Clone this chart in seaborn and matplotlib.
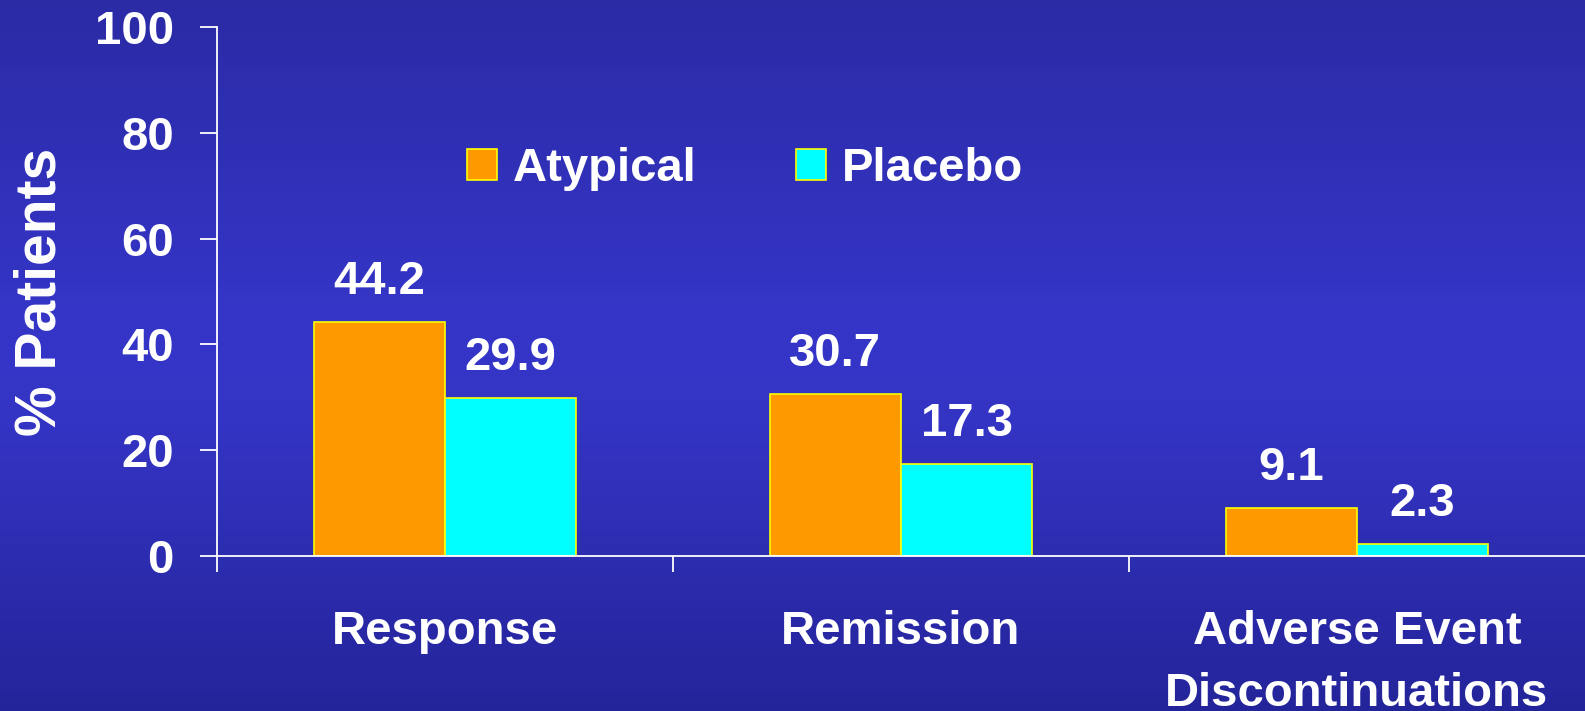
import numpy as np
import pandas as pd
import matplotlib
matplotlib.use("Agg")
import matplotlib.pyplot as plt
import matplotlib.patches as mpatches
from matplotlib.colors import LinearSegmentedColormap
import seaborn as sns

# Data
categories = ["Response", "Remission", "Adverse Event\nDiscontinuations"]
groups = ["Atypical", "Placebo"]
atypical = [44.2, 30.7, 9.1]
placebo = [29.9, 17.3, 2.3]
y_ticks = [0, 20, 40, 60, 80, 100]

colors = {"Atypical": "#FF9900", "Placebo": "#00FFFF"}
edge = "#FFFF00"
fg = "white"

sns.set_style("ticks")
plt.rcParams["font.family"] = ["Liberation Sans", "DejaVu Sans"]
plt.rcParams["font.weight"] = "bold"

df = pd.DataFrame({
    "category": categories * 2,
    "group": ["Atypical"] * 3 + ["Placebo"] * 3,
    "value": atypical + placebo,
})

fig = plt.figure(figsize=(15.85, 7.11), dpi=100)

# Vertical blue gradient backdrop
bg = fig.add_axes([0, 0, 1, 1], zorder=-10)
grad_cmap = LinearSegmentedColormap.from_list(
    "bluegrad",
    [(0.0, "#2B2BA6"), (0.45, "#3535C8"), (0.6, "#3434C4"), (1.0, "#24249A")],
)
bg.imshow(np.linspace(0, 1, 256).reshape(-1, 1), aspect="auto", cmap=grad_cmap,
          extent=[0, 1, 0, 1])
bg.set_axis_off()

ax = fig.add_axes([217 / 1585, 1 - 556 / 711, 1 - 217 / 1585, (556 - 27) / 711])
ax.set_facecolor("none")

sns.barplot(data=df, x="category", y="value", hue="group", order=categories,
            hue_order=groups, palette=colors, width=0.575, gap=0,
            edgecolor=edge, linewidth=1.2, errorbar=None, legend=False,
            saturation=1, ax=ax)

for cont in ax.containers:
    ax.bar_label(cont, fmt="%.1f", padding=13, fontsize=34,
                 fontweight="bold", color=fg)

ax.set_xlim(-0.5, 2.5)
ax.set_ylim(0, 100)
ax.set_yticks(y_ticks)
ax.set_yticklabels([str(t) for t in y_ticks], fontweight="bold")
ax.set_xticks(range(len(categories)))
ax.set_xticklabels(categories, fontweight="bold", linespacing=1.53)
ax.set_xlabel("")
ax.set_ylabel("% Patients", fontsize=41, fontweight="bold", color=fg,
              labelpad=20)

for s in ["top", "right"]:
    ax.spines[s].set_visible(False)
for s in ["left", "bottom"]:
    ax.spines[s].set_color(fg)
    ax.spines[s].set_linewidth(1.3)
ax.spines["bottom"].set_zorder(5)

ax.tick_params(axis="y", colors=fg, labelsize=34, length=12, width=1.3,
               pad=19)
ax.tick_params(axis="x", which="major", colors=fg, labelsize=34, length=0,
               pad=39)
ax.set_xticks([-0.5, 0.5, 1.5], minor=True)
ax.tick_params(axis="x", which="minor", colors=fg, length=11.5, width=1.3)

handles = [mpatches.Patch(facecolor=colors[g], edgecolor=edge, linewidth=1.2,
                          label=g) for g in groups]
leg = fig.legend(handles=handles, loc="center left",
                 bbox_to_anchor=(443 / 1585, 1 - 169 / 711), ncol=2,
                 frameon=False, borderpad=0, handlelength=0.64,
                 handleheight=0.64, handletextpad=0.34, columnspacing=2.1,
                 prop={"family": "Liberation Sans", "weight": "bold",
                       "size": 34})
for t in leg.get_texts():
    t.set_color(fg)

fig.savefig("out.png", dpi=100)
